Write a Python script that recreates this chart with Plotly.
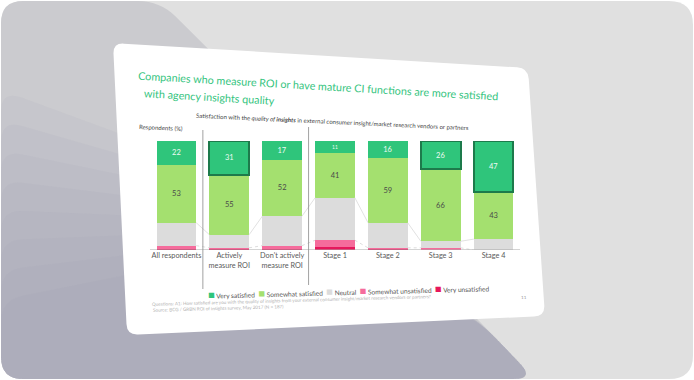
import plotly.graph_objects as go

# ---------------- data ----------------
categories = ["All respondents", "Actively<br>measure ROI", "Don't actively<br>measure ROI",
              "Stage 1", "Stage 2", "Stage 3", "Stage 4"]
very_satisfied = [22, 31, 17, 11, 16, 26, 47]
somewhat_satisfied = [53, 55, 52, 41, 59, 66, 43]
neutral = [21, 12, 27, 39, 23, 6, 10]
somewhat_unsatisfied = [3, 1, 3, 6, 1, 2, 0]
very_unsatisfied = [1, 1, 1, 3, 1, 0, 0]
highlighted = [False, True, False, False, False, True, True]

series_names = ["Very satisfied", "Somewhat satisfied", "Neutral",
                "Somewhat unsatisfied", "Very unsatisfied"]
title_lines = ["Companies who measure ROI or have mature CI functions are more satisfied",
               "with agency insights quality"]
subtitle = ("Satisfaction with the <i>quality of <b>insights</b></i> in external consumer "
            "insight/market research vendors or partners")
footnotes = ["Questions: A1: How satisfied are you with the quality of insights from your "
             "external consumer insight/market research vendors or partners?",
             "Source: BCG / GRBN ROI of insights survey, May 2017 (N = 187)"]

# ---------------- styling ----------------
W, H = 694, 380
FONT = "Lato"
C_VS, C_SS, C_N, C_SU, C_VU = "#2fc57b", "#a4e06f", "#dcdcdc", "#f56c9c", "#e6185c"
GREEN_TITLE = "#34c47e"
BAR_W = 0.75


def X(px):
    return px / W


def Y(py):
    return 1 - py / H


def rounded_poly(pts, r):
    """Closed path (paper coords) through pixel corner points with rounded corners."""
    n = len(pts)
    segs = []
    for i in range(n):
        p0, p1, p2 = pts[i - 1], pts[i], pts[(i + 1) % n]

        def towards(a, b, d):
            dx, dy = b[0] - a[0], b[1] - a[1]
            L = (dx * dx + dy * dy) ** 0.5
            return (a[0] + dx / L * d, a[1] + dy / L * d)
        a = towards(p1, p0, r)
        b = towards(p1, p2, r)
        segs.append((a, p1, b))
    d = f"M {X(segs[0][0][0])},{Y(segs[0][0][1])} "
    for i, (a, c, b) in enumerate(segs):
        if i > 0:
            d += f"L {X(a[0])},{Y(a[1])} "
        d += f"Q {X(c[0])},{Y(c[1])} {X(b[0])},{Y(b[1])} "
    return d + "Z"


shapes = [
    # outer rounded background
    dict(type="path", xref="paper", yref="paper", layer="below",
         path=rounded_poly([(1, 1), (693, 1), (693, 379), (1, 379)], 24),
         fillcolor="#e0e0e0", line_width=0),
    # shadow band
    dict(type="path", xref="paper", yref="paper", layer="below",
         path=rounded_poly([(1, 1), (160, 1), (330, 170), (480, 322), (535, 379), (1, 379)], 22),
         fillcolor="#cbcbcf", line_width=0),
]
# soft gradient inside the shadow band (stacked translucent layers)
for k in range(8):
    t = k / 7
    top_y = 90 + 210 * t
    shapes.append(dict(
        type="path", xref="paper", yref="paper", layer="below",
        path=rounded_poly([(1, top_y), (300, 200 + 40 * t), (480, 322),
                           (535, 379), (1, 379)], 22),
        fillcolor="#9c99ab", opacity=0.085, line_width=0))
shapes += [
    # slide card
    dict(type="path", xref="paper", yref="paper", layer="below",
         path=rounded_poly([(113, 43), (528, 68), (545, 316), (127, 335)], 11),
         fillcolor="#ffffff", line_width=0),
    # baseline
    dict(type="line", xref="x", yref="y", x0=-0.62, x1=6.62, y0=0, y1=0,
         line=dict(color="#a8a8a8", width=1), layer="above"),
    # group separators
    dict(type="line", xref="x", yref="paper", x0=0.5, x1=0.5, y0=Y(289), y1=Y(130),
         line=dict(color="#8a8a8a", width=0.8)),
    dict(type="line", xref="x", yref="paper", x0=2.5, x1=2.5, y0=Y(285), y1=Y(127),
         line=dict(color="#8a8a8a", width=0.8)),
]

xpos = list(range(len(categories)))
fig = go.Figure()

# faint connector lines between adjacent bars
neutral_top = [a + b + c for a, b, c in zip(very_unsatisfied, somewhat_unsatisfied, neutral)]
unsat_top = [a + b for a, b in zip(very_unsatisfied, somewhat_unsatisfied)]
for i in range(len(xpos) - 1):
    fig.add_trace(go.Scatter(x=[xpos[i] + BAR_W / 2, xpos[i + 1] - BAR_W / 2],
                             y=[neutral_top[i], neutral_top[i + 1]], mode="lines",
                             line=dict(color="#d9d9d9", width=0.8), showlegend=False,
                             hoverinfo="skip"))
    fig.add_trace(go.Scatter(x=[xpos[i] + BAR_W / 2, xpos[i + 1] - BAR_W / 2],
                             y=[unsat_top[i], unsat_top[i + 1]], mode="lines",
                             line=dict(color="#cfcfcf", width=0.7, dash="dot"), showlegend=False,
                             hoverinfo="skip"))

stack = [
    (very_unsatisfied, C_VU, series_names[4], False),
    (somewhat_unsatisfied, C_SU, series_names[3], False),
    (neutral, C_N, series_names[2], False),
    (somewhat_satisfied, C_SS, series_names[1], True),
    (very_satisfied, C_VS, series_names[0], True),
]
for vals, color, name, labelled in stack:
    is_top = name == series_names[0]
    fig.add_trace(go.Bar(
        x=xpos, y=vals, name=name, width=BAR_W,
        marker=dict(color=color,
                    line=dict(color="#1d7a4b",
                              width=[2 if (h and is_top) else 0 for h in highlighted])),
        text=[str(v) for v in vals] if labelled else None,
        textposition="inside" if labelled else "none",
        insidetextanchor="middle", textangle=0,
        textfont=dict(family=FONT, size=7.5,
                      color="#eefaf3" if is_top else "#4a4a4a"),
        showlegend=False, hoverinfo="x+y+name"))


def note(text, px, py, angle=0, size=7, color="#555555", xanchor="center", **kw):
    return dict(text=text, x=X(px), y=Y(py), xref="paper", yref="paper",
                xanchor=xanchor, yanchor="middle", showarrow=False, textangle=angle,
                font=dict(family=FONT, size=size, color=color), **kw)


annotations = [
    note(title_lines[0], 318, 85, 3.3, 10.8, GREEN_TITLE),
    note(title_lines[1], 209, 96, 3.3, 10.8, GREEN_TITLE),
    note(subtitle, 332, 121, 2.6, 6.0, "#444444"),
    note("Respondents (%)", 161, 127, 2.5, 6.0, "#444444"),
]

legend_text = "  ".join(
    f'<span style="color:{c};font-size:11px">■</span> {n}'
    for c, n in zip([C_VS, C_SS, C_N, C_SU, C_VU], series_names))
annotations.append(note(legend_text, 348, 290, -1.5, 6.6, "#555555"))
annotations.append(note(footnotes[0], 150, 300, -1.6, 4.6, "#b0b0b0", xanchor="left"))
annotations.append(note(footnotes[1], 151, 308, -1.6, 4.6, "#b0b0b0", xanchor="left"))
annotations.append(note("11", 524, 297, 0, 4.6, "#999999"))

fig.update_layout(
    width=W, height=H, margin=dict(l=0, r=0, t=0, b=0),
    paper_bgcolor="#ffffff", plot_bgcolor="rgba(0,0,0,0)",
    barmode="stack", showlegend=False,
    font=dict(family=FONT, color="#555555"),
    xaxis=dict(domain=[X(150), X(520)], range=[-0.5, 6.5], tickvals=xpos, ticktext=categories,
               showgrid=False, zeroline=False, showline=False, ticks="",
               tickfont=dict(family=FONT, size=7.3, color="#5a5a5a"), automargin=False,
               fixedrange=True),
    yaxis=dict(domain=[Y(250), Y(141)], range=[0, 100], visible=False, automargin=False,
               fixedrange=True),
    shapes=shapes, annotations=annotations,
)

fig.write_html("out.html", config={"displayModeBar": False},
               post_script="document.body.style.margin='0';document.body.style.overflow='hidden';")
